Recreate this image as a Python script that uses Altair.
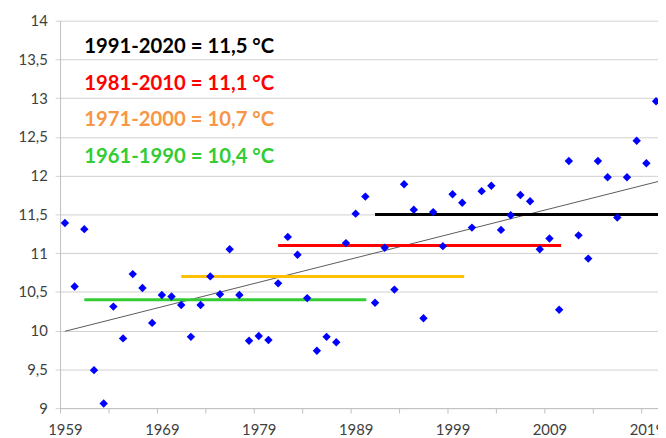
import altair as alt
import pandas as pd

years = list(range(1959, 2021))
temps = [11.39, 10.57, 11.31, 9.49, 9.06, 10.31, 9.90, 10.73, 10.55, 10.10,
         10.46, 10.44, 10.33, 9.92, 10.33, 10.70, 10.47, 11.05, 10.46, 9.87,
         9.93, 9.88, 10.61, 11.21, 10.98, 10.42, 9.74, 9.92, 9.85, 11.13,
         11.51, 11.73, 10.36, 11.07, 10.53, 11.89, 11.56, 10.16, 11.53, 11.09,
         11.76, 11.65, 11.33, 11.80, 11.87, 11.30, 11.49, 11.75, 11.67, 11.05,
         11.19, 10.27, 12.19, 11.23, 10.93, 12.19, 11.98, 11.46, 11.98, 12.45,
         12.16, 12.96]

normal_labels = ["1991-2020 = 11,5 °C", "1981-2010 = 11,1 °C",
                 "1971-2000 = 10,7 °C", "1961-1990 = 10,4 °C"]
normal_start = [1991, 1981, 1971, 1961]
normal_end = [2020.3, 2010.2, 2000.2, 1990.1]
normal_values = [11.5, 11.1, 10.7, 10.4]
line_colors = ["#000000", "#ff0000", "#ffc000", "#33cc33"]
text_colors = ["#000000", "#ff0000", "#f79646", "#33cc33"]
label_y = [13.58, 13.105, 12.635, 12.17]
label_x = [1961, 1961, 1961, 1961]

y_ticks = [9 + 0.5 * i for i in range(11)]
x_ticks = [1958.5 + 5 * i for i in range(13)]

df = pd.DataFrame({"year": years, "temp": temps})
norms = pd.DataFrame({"start": normal_start, "end": normal_end,
                      "value": normal_values, "color": line_colors})
labels = pd.DataFrame({"label": normal_labels, "x": label_x, "y": label_y,
                       "color": text_colors})

xscale = alt.Scale(domain=[1958.5, 2020.2], nice=False, zero=False)
yscale = alt.Scale(domain=[9, 14], nice=False, zero=False)

x_axis = alt.Axis(values=x_ticks, title=None, grid=False,
                  labelExpr="(datum.value - 1958.5) % 10 == 0 ? format(datum.value + 0.5, 'd') : ''",
                  labelOffset=4.9, labelFlush=False, labelOverlap=False,
                  tickSize=5, tickColor="#bfbfbf", domainColor="#bfbfbf",
                  labelPadding=10, labelFont="Lato", labelFontSize=15,
                  labelColor="#404040")
y_axis = alt.Axis(values=y_ticks, title=None, grid=True, gridColor="#d0d0d0",
                  labelExpr="replace(format(datum.value, '.1~f'), '.', ',')",
                  labelOverlap=False, labelFlush=False,
                  tickSize=5, tickColor="#d0d0d0", domainColor="#bfbfbf",
                  labelPadding=8, labelFont="Lato", labelFontSize=15,
                  labelColor="#404040")

X = lambda f: alt.X(f, scale=xscale, axis=x_axis)
Y = lambda f: alt.Y(f, scale=yscale, axis=y_axis)

base = alt.Chart(df)

trend = base.transform_regression("year", "temp", extent=[1959, 2021]).mark_line(
    color="#5a5a5a", strokeWidth=1
).encode(x=X("year:Q"), y=Y("temp:Q"))

rules = alt.Chart(norms).mark_rule(strokeWidth=3).encode(
    x=X("start:Q"),
    x2="end:Q",
    y=Y("value:Q"),
    color=alt.Color("color:N", scale=None),
)

points = base.mark_point(shape="diamond", filled=True, size=72,
                         color="#0000ff", opacity=1).encode(
    x=X("year:Q"), y=Y("temp:Q"))

texts = alt.Chart(labels).mark_text(align="left", baseline="alphabetic",
                                    font="Lato", fontWeight="bold",
                                    fontSize=20.5).encode(
    x=X("x:Q"),
    y=Y("y:Q"),
    text="label:N",
    color=alt.Color("color:N", scale=None),
)

chart = alt.layer(trend, rules, points, texts).properties(
    width=605, height=392,
    autosize=alt.AutoSizeParams(type="none"),
    padding={"left": 52.7, "top": 10.3, "right": 0, "bottom": 30},
    background="white",
).configure_view(stroke=None)

chart.save("out.html", embed_options={"renderer": "svg", "actions": False})
